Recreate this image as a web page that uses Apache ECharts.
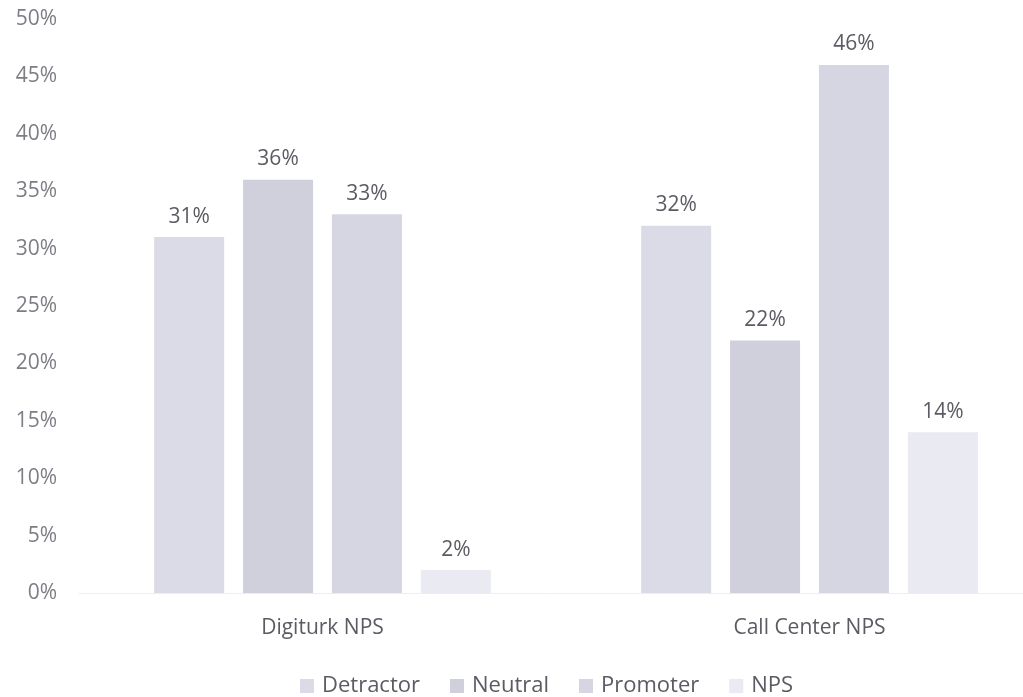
<!DOCTYPE html>
<html>
<head>
<meta charset="utf-8">
<script src="https://cdn.jsdelivr.net/npm/echarts@6/dist/echarts.min.js"></script>
<style>
  html, body { margin: 0; padding: 0; background: #fff; }
  #chart { width: 1023px; height: 697px; }
</style>
</head>
<body>
<div id="chart"></div>
<script>
const categories = ['Digiturk NPS', 'Call Center NPS'];
const detractor = [31, 32];
const neutral = [36, 22];
const promoter = [33, 46];
const nps = [2, 14];

const chart = echarts.init(document.getElementById('chart'));

const labelStyle = {
  show: true,
  position: 'top',
  distance: 10,
  color: '#5b5b63',
  fontSize: 21,
  fontFamily: 'Open Sans',
  formatter: p => p.value + '%'
};

function bar(name, data, color) {
  return {
    name: name,
    type: 'bar',
    data: data,
    barWidth: 70,
    barGap: '27%',
    itemStyle: { color: color },
    label: labelStyle
  };
}

const options = {
  animation: false,
  textStyle: { fontFamily: 'Open Sans' },
  grid: { left: 79, right: -30, top: 19, bottom: 104, outerBoundsMode: 'none' },
  legend: {
    top: 670,
    left: 295,
    itemWidth: 14,
    itemHeight: 14,
    itemGap: 30,
    icon: 'rect',
    textStyle: { color: '#5b5b63', fontSize: 22, padding: [0, 0, 0, 3] },
    data: ['Detractor', 'Neutral', 'Promoter', 'NPS']
  },
  xAxis: {
    type: 'category',
    data: categories,
    axisTick: { show: false },
    axisLine: { lineStyle: { color: '#eeeeee' } },
    axisLabel: { color: '#5b5b63', fontSize: 21, margin: 25 }
  },
  yAxis: {
    type: 'value',
    min: 0,
    max: 50,
    interval: 5,
    splitLine: { show: false },
    axisLabel: { color: '#7d7d85', fontSize: 21, margin: 22, formatter: '{value}%' }
  },
  series: [
    bar('Detractor', detractor, '#dadbe6'),
    bar('Neutral', neutral, '#cfd0dc'),
    bar('Promoter', promoter, '#d5d6e2'),
    bar('NPS', nps, '#e9eaf2')
  ]
};

chart.setOption(options);
</script>
</body>
</html>
